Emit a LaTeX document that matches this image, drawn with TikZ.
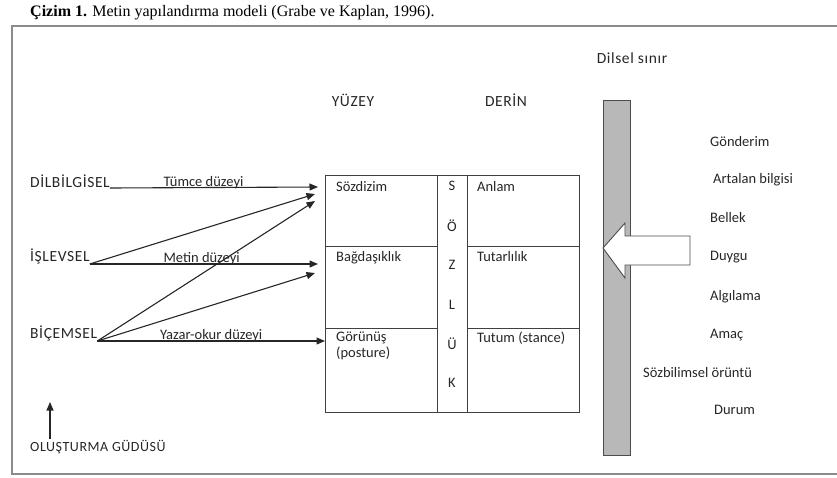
\documentclass[tikz,border=0pt]{standalone}
\usepackage{fontspec}
\setmainfont{Carlito}
\newfontfamily\capfont{Liberation Serif}
\newfontfamily\spacedfont[LetterSpace=4]{Carlito}
\usetikzlibrary{arrows.meta}
\tikzset{
  lbl/.style={
    font=\fontsize{14.5}{16}\selectfont,
    text=black!85,
    inner sep=0pt
  },
  caps/.style={lbl, font=\spacedfont\fontsize{15.5}{17}\selectfont},
  link/.style={
    line width=1.1pt,
    draw=black!85,
    -{Triangle[length=8.5pt,width=7pt]}
  },
  grid-line/.style={line width=0.9pt, draw=black!75},
  frame-line/.style={line width=1.8pt, draw=black!45},
  bar/.style={line width=0.9pt, draw=black!70, fill=black!28},
  block-arrow/.style={line width=0.9pt, draw=black!70, fill=white}
}

\begin{document}
\begin{tikzpicture}[x=1pt,y=-1pt]
  \useasboundingbox (0,0) rectangle (837,477);

  % 1. Caption and frame
  \node[anchor=west, inner sep=0pt, font=\capfont\fontsize{16}{18}\selectfont] (caption)
    at (30,13) {\textbf{Çizim 1.} Metin yapılandırma modeli (Grabe ve Kaplan, 1996).};
  \draw[frame-line] (850,26) -- (12,26) -- (12,474) -- (850,474);

  % 2. Headings
  \node[caps] (yuzey) at (353,100) {YÜZEY};
  \node[caps] (derin) at (506,100) {DERİN};
  \node[caps] (sinir) at (632,58) {Dilsel sınır};

  % 3. The table (surface / lexicon / deep)
  \draw[grid-line] (325,175) rectangle (579,412);
  \draw[grid-line] (437,175) -- (437,412);
  \draw[grid-line] (467,175) -- (467,412);
  \draw[grid-line] (325,246) -- (437,246);
  \draw[grid-line] (467,246) -- (579,246);
  \draw[grid-line] (325,328) -- (437,328);
  \draw[grid-line] (467,328) -- (579,328);

  \node[lbl, anchor=north west] (sozdizim) at (336,181) {Sözdizim};
  \node[lbl, anchor=north west] (anlam) at (477,181) {Anlam};
  \node[lbl, anchor=north west] (bagdas) at (336,251) {Bağdaşıklık};
  \node[lbl, anchor=north west] (tutar) at (477,251) {Tutarlılık};
  \node[lbl, anchor=north west, align=left] (gorunus) at (336,332) {Görünüş\\(posture)};
  \node[lbl, anchor=north west] (tutum) at (477,332) {Tutum (stance)};

  % lexicon column, one letter per line
  \foreach \ch/\yy in {S/186, Ö/226, Z/265, L/305, Ü/344, K/383}
    \node[lbl] (lex-\ch) at (452,\yy) {\ch};

  % 4. Left side: levels and their arrows
  \node[caps, anchor=south west] (dil) at (30,188) {DİLBİLGİSEL};
  \node[caps, anchor=south west] (isl) at (30,264) {İŞLEVSEL};
  \node[caps, anchor=south west] (bic) at (30,341) {BİÇEMSEL};

  \coordinate (a1) at (318,187);
  \coordinate (a2) at (315,194);
  \coordinate (a3) at (315,201);
  \coordinate (b1) at (318,264);
  \coordinate (b2) at (315,273);
  \coordinate (c1) at (325,341);

  \draw[link] (dil.south east) -- (a1)
    node[lbl, pos=0.45, anchor=base, yshift=1.5pt] (tumce) {Tümce düzeyi};
  \draw[link] (isl.south east) -- (b1)
    node[lbl, pos=0.49, anchor=base, yshift=1.5pt] (metin) {Metin düzeyi};
  \draw[link] (bic.south east) -- (c1)
    node[lbl, pos=0.5, anchor=base, yshift=1.5pt] (yazar) {Yazar-okur düzeyi};
  \draw[link] (isl.south east) -- (a2);
  \draw[link] (bic.south east) -- (a3);
  \draw[link] (bic.south east) -- (b2);

  % 5. Drive arrow at bottom left
  \node[caps, anchor=south west, font=\spacedfont\fontsize{14}{16}\selectfont] (gudu)
    at (30,454) {OLUŞTURMA GÜDÜSÜ};
  \coordinate (gudu-top) at (50,402);
  \draw[link] (gudu-top |- gudu.north) ++(0,-1) -- (gudu-top);

  % 6. Linguistic boundary and the block arrow
  \draw[bar] (603,100) rectangle (630,455);
  \draw[block-arrow] (603,248) -- (625,223) -- (625,236) -- (690,236)
    -- (690,265) -- (625,265) -- (625,278) -- cycle;

  % 7. Right side: context factors
  \foreach \nm/\xx/\yy/\txt in {
      gon/710/142/Gönderim,
      art/713/180/Artalan bilgisi,
      bel/710/218/Bellek,
      duy/710/257/Duygu,
      alg/710/297/Algılama,
      ama/710/335/Amaç,
      soz/643/373/Sözbilimsel örüntü,
      dur/714/410/Durum}
    \node[lbl, anchor=west] (r-\nm) at (\xx,\yy) {\txt};

\end{tikzpicture}
\end{document}
